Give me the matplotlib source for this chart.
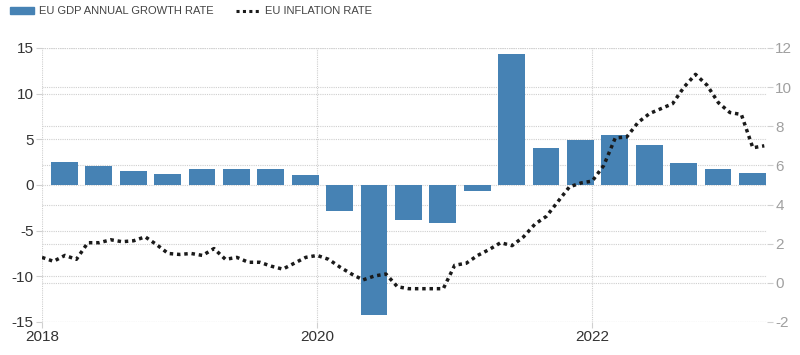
import numpy as np
import matplotlib.pyplot as plt
from matplotlib.patches import Patch
from matplotlib.lines import Line2D

# quarterly GDP growth (y/y %), 2018Q1 .. 2023Q1
gdp_quarters = ['2018Q1', '2018Q2', '2018Q3', '2018Q4', '2019Q1', '2019Q2', '2019Q3', '2019Q4',
                '2020Q1', '2020Q2', '2020Q3', '2020Q4', '2021Q1', '2021Q2', '2021Q3', '2021Q4',
                '2022Q1', '2022Q2', '2022Q3', '2022Q4', '2023Q1']
gdp_growth = [2.5, 2.1, 1.5, 1.2, 1.8, 1.7, 1.8, 1.1,
              -2.8, -14.2, -3.8, -4.2, -0.7, 14.3, 4.1, 4.9,
              5.5, 4.4, 2.4, 1.8, 1.3]

# monthly inflation (%), 2018-01 .. 2023-04
inflation = [1.3, 1.1, 1.4, 1.2, 2.05, 2.05, 2.2, 2.1, 2.15, 2.35, 1.95, 1.5,
             1.45, 1.5, 1.4, 1.75, 1.2, 1.3, 1.05, 1.05, 0.85, 0.7, 1.0, 1.3,
             1.4, 1.2, 0.8, 0.45, 0.15, 0.35, 0.45, -0.2, -0.3, -0.3, -0.3, -0.3,
             0.9, 1.0, 1.4, 1.7, 2.05, 1.9, 2.35, 3.0, 3.4, 4.15, 4.9, 5.1,
             5.2, 6.0, 7.4, 7.45, 8.2, 8.65, 8.9, 9.15, 10.0, 10.65, 10.1, 9.2,
             8.7, 8.6, 6.9, 7.0]

left_ticks = [-15, -10, -5, 0, 5, 10, 15]
right_ticks = [-2, 0, 2, 4, 6, 8, 10, 12]
year_ticks = [2018, 2020, 2022]

bar_color = '#4682b4'
grid_kw = dict(color='#cfcfcf', linestyle=(0, (1, 1)), linewidth=0.8)
plt.rcParams['font.family'] = ['Liberation Sans Narrow', 'Liberation Sans', 'DejaVu Sans']
plt.rcParams['axes.unicode_minus'] = False

fig = plt.figure(figsize=(8, 3.55), dpi=100)
ax = fig.add_axes([0.0525, 0.093, 0.9063, 0.772])
ax2 = ax.twinx()

ax.set_xlim(2018, 2023.27)
ax.set_ylim(-15, 15)
ax2.set_ylim(-2, 12)

# bar x positions from quarter labels
qx = [int(q[:4]) + (int(q[-1]) - 1) * 0.25 + 0.163 for q in gdp_quarters]
ax.bar(qx, gdp_growth, width=0.195, color=bar_color, zorder=3)

# right-axis grid drawn on the bar axes so it stays behind the bars
def right_to_left(v):
    return -15 + (v + 2) * 30 / 14

for v in left_ticks:
    ax.axhline(v, zorder=1, **grid_kw)
for v in right_ticks:
    ax.axhline(right_to_left(v), zorder=1, **grid_kw)
for x in year_ticks:
    ax.axvline(x, zorder=1, **grid_kw)

mx = 2018 + np.arange(len(inflation)) / 12
ax2.plot(mx, inflation, color='#1a1a1a', linestyle=(0, (1, 1.1)), linewidth=2.5,
         dash_capstyle='butt')

for s in list(ax.spines.values()) + list(ax2.spines.values()):
    s.set_visible(False)

ax.set_yticks(left_ticks)
ax.set_xticks(year_ticks)
ax.tick_params(axis='y', length=4, color='#d0d0d0', labelsize=11, labelcolor='#333333', pad=2)
ax.tick_params(axis='x', length=4, color='#d0d0d0', labelsize=11, labelcolor='#333333', pad=2)
ax2.set_yticks(right_ticks)
ax2.tick_params(axis='y', length=4, color='#d0d0d0', labelsize=11, labelcolor='#a0a0a0', pad=2)

handles = [Patch(color=bar_color),
           Line2D([], [], color='#1a1a1a', linestyle=(0, (1, 1.1)), linewidth=2.2)]
fig.legend(handles, ['EU GDP ANNUAL GROWTH RATE', 'EU INFLATION RATE'],
           loc='upper left', bbox_to_anchor=(0.0, 1.01), ncol=2, frameon=False,
           fontsize=8, handlelength=2.2, handleheight=0.6, handletextpad=0.4,
           columnspacing=2.0, labelcolor='#444444')

fig.savefig('out.png', dpi=100)
